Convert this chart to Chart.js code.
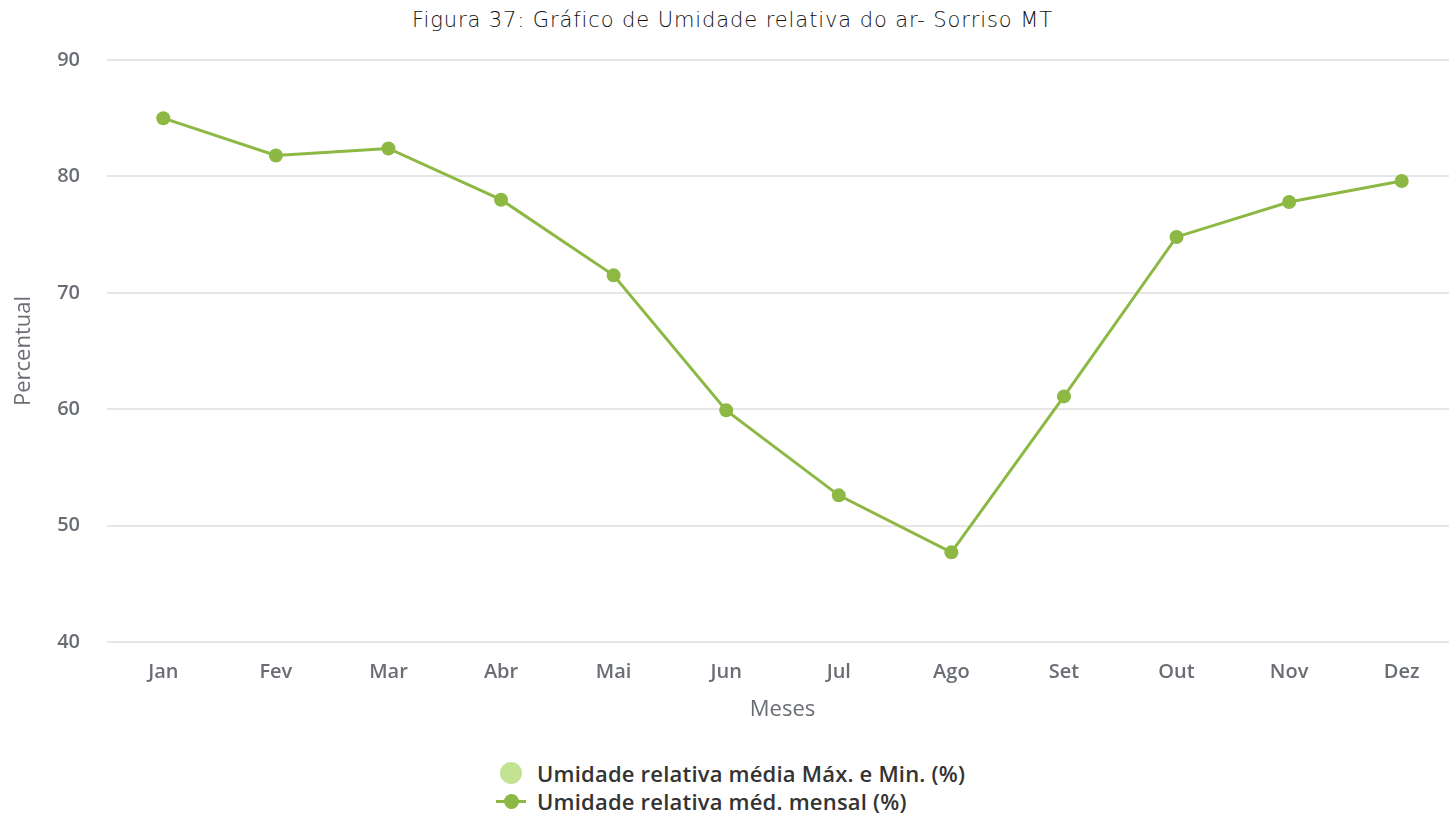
<!DOCTYPE html>
<html>
<head>
<meta charset="utf-8">
<script src="https://cdn.jsdelivr.net/npm/chart.js@4"></script>
<style>
  html, body { margin: 0; padding: 0; background: #fff; overflow: hidden; }
  #wrap { position: relative; width: 1465px; height: 814px; }
  #title { position: absolute; top: 8px; left: 412px; white-space: nowrap; font-family: "DejaVu Sans"; font-weight: 200; font-size: 21px; letter-spacing: 0.9px; color: #111; }
  #chartBox { position: absolute; top: 0; left: 0; width: 1465px; height: 730px; }
  #legend { position: absolute; top: 759px; left: 496px; font-family: "Open Sans"; font-weight: 600; font-size: 22px; letter-spacing: 0.2px; color: #333; }
  .item { height: 28px; display: flex; align-items: center; }
  .dot { display: inline-block; width: 22px; height: 22px; border-radius: 50%; margin: 0 15px 0 4px; }
  .ln { display: inline-block; position: relative; width: 30px; height: 3px; margin-right: 11px; }
  .ln i { position: absolute; left: 8px; top: -6px; width: 15px; height: 15px; border-radius: 50%; }
</style>
</head>
<body>
<div id="wrap">
  <div id="title">Figura 37: Gráfico de Umidade relativa do ar- Sorriso MT</div>
  <div id="chartBox"><canvas id="umidade"></canvas></div>
  <div id="legend"></div>
</div>
<script>
const meses = ['Jan', 'Fev', 'Mar', 'Abr', 'Mai', 'Jun', 'Jul', 'Ago', 'Set', 'Out', 'Nov', 'Dez'];
const umidadeMensal = [85.0, 81.8, 82.4, 78.0, 71.5, 59.9, 52.6, 47.7, 61.1, 74.8, 77.8, 79.6];
const umidadeMaxMin = [];
const yTicks = [40, 50, 60, 70, 80, 90];

const verde = '#8cb843';
const verdeClaro = '#c3e292';

const ctx = document.getElementById('umidade').getContext('2d');
const chart = new Chart(ctx, {
  type: 'line',
  data: {
    labels: meses,
    datasets: [
      { label: 'Umidade relativa média Máx. e Min. (%)', data: umidadeMaxMin, backgroundColor: verdeClaro, borderColor: verdeClaro, pointStyle: 'circle' },
      { label: 'Umidade relativa méd. mensal (%)', data: umidadeMensal, borderColor: verde, backgroundColor: verde, borderWidth: 3, pointRadius: 7, pointHoverRadius: 7, pointBackgroundColor: verde, pointBorderWidth: 0, tension: 0 },
    ],
  },
  options: {
    responsive: true,
    maintainAspectRatio: false,
    animation: false,
    layout: { padding: { top: 60, right: 0, bottom: 0, left: 0 } },
    plugins: { legend: { display: false }, title: { display: false }, tooltip: { enabled: false } },
    scales: {
      x: {
        offset: true,
        grid: { display: false, drawTicks: false },
        border: { display: false },
        ticks: { color: '#6a6e74', padding: 18, font: { family: 'Open Sans', size: 20, weight: '600' } },
        title: { display: true, text: 'Meses', color: '#6a6e74', padding: { top: 0, bottom: 7 }, font: { family: 'Open Sans', size: 22 } },
        afterFit: s => { s.height = 88; },
      },
      y: {
        min: 40,
        max: 90,
        afterBuildTicks: s => { s.ticks = yTicks.map(v => ({ value: v })); },
        grid: { color: '#e6e6e6', lineWidth: 2, drawTicks: false },
        border: { display: false },
        ticks: { color: '#6a6e74', padding: 27, font: { family: 'Open Sans', size: 20, weight: '600' } },
        title: { display: true, text: 'Percentual', color: '#6a6e74', padding: { top: 11 }, font: { family: 'Open Sans', size: 22 } },
        afterFit: s => { s.width = 107; },
      },
    },
  },
});

const legend = document.getElementById('legend');
chart.data.datasets.forEach((ds, i) => {
  const row = document.createElement('div');
  row.className = 'item';
  if (i === 0) {
    row.innerHTML = '<span class="dot" style="background:' + ds.backgroundColor + '"></span>' + ds.label;
  } else {
    row.innerHTML = '<span class="ln" style="background:' + ds.borderColor + '"><i style="background:' + ds.borderColor + '"></i></span>' + ds.label;
  }
  legend.appendChild(row);
});
</script>
</body>
</html>
